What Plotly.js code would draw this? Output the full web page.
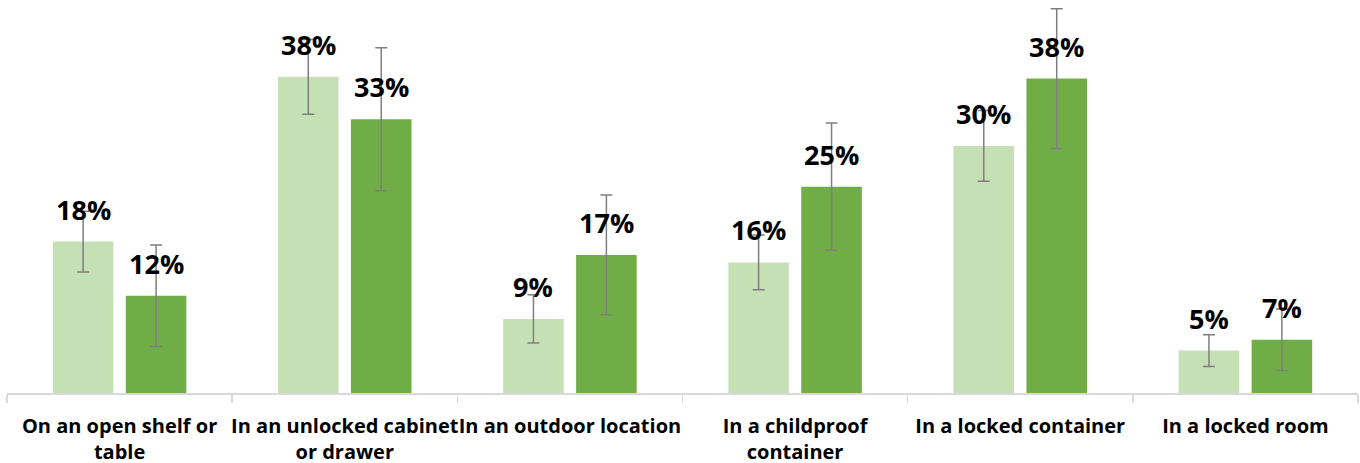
<!DOCTYPE html>
<html>
<head>
<meta charset="utf-8">
<script src="https://cdn.plot.ly/plotly-3.0.1.min.js"></script>
<style>
html,body{margin:0;padding:0;background:#fff;}
#chart{width:1360px;height:463px;}
</style>
</head>
<body>
<div id="chart"></div>
<script>
const categories = [
  "On an open shelf or<br>table",
  "In an unlocked cabinet<br>or drawer",
  "In an outdoor location",
  "In a childproof<br>container",
  "In a locked container",
  "In a locked room"
];
const lightValues = [18.2, 38.0, 8.9, 15.7, 29.7, 5.1];
const darkValues  = [11.7, 32.9, 16.6, 24.8, 37.8, 6.4];
const lightErrors = [3.65, 4.5, 2.9, 3.3, 4.25, 1.9];
const darkErrors  = [6.1, 8.6, 7.2, 7.65, 8.4, 3.7];
const lightLabels = ["18%", "38%", "9%", "16%", "30%", "5%"];
const darkLabels  = ["12%", "33%", "17%", "25%", "38%", "7%"];

const errStyle = {color: "#7f7f7f", thickness: 1.5, width: 6};

const traces = [
  {
    type: "bar", x: categories, y: lightValues, name: "Light",
    marker: {color: "#c5e0b4"},
    error_y: Object.assign({type: "data", array: lightErrors, visible: true}, errStyle),
    hoverinfo: "skip"
  },
  {
    type: "bar", x: categories, y: darkValues, name: "Dark",
    marker: {color: "#70ad47"},
    error_y: Object.assign({type: "data", array: darkErrors, visible: true}, errStyle),
    hoverinfo: "skip"
  }
];

const labelFont = {family: "Open Sans, sans-serif", size: 27, color: "#000", weight: 700};
const annotations = [];
categories.forEach((c, i) => {
  annotations.push({x: c, y: lightValues[i], xref: "x", yref: "y", text: "<b>" + lightLabels[i] + "</b>",
    showarrow: false, xshift: -36.5, yanchor: "bottom", yshift: 12, font: labelFont});
  annotations.push({x: c, y: darkValues[i], xref: "x", yref: "y", text: "<b>" + darkLabels[i] + "</b>",
    showarrow: false, xshift: 36.5, yanchor: "bottom", yshift: 12, font: labelFont});
});

const layout = {
  width: 1360, height: 463,
  margin: {l: 7, r: 2, t: 0, b: 70},
  paper_bgcolor: "#fff", plot_bgcolor: "#fff",
  showlegend: false,
  barmode: "group",
  bargap: 0.352,
  bargroupgap: 0.17,
  xaxis: {
    type: "category",
    showline: true, linecolor: "#d9d9d9", linewidth: 1.5,
    ticks: "outside", tickson: "boundaries", ticklen: 8, tickcolor: "#d9d9d9", tickwidth: 1.5,
    tickangle: 0, ticklabelstandoff: 14,
    tickfont: {family: "Open Sans, sans-serif", size: 20, color: "#000", weight: 700},
    showgrid: false, zeroline: false, automargin: false
  },
  yaxis: {
    range: [0, 47.24], visible: false, showgrid: false, zeroline: false, fixedrange: true
  },
  annotations: annotations
};

Plotly.newPlot("chart", traces, layout, {displayModeBar: false, staticPlot: true});
</script>
</body>
</html>
